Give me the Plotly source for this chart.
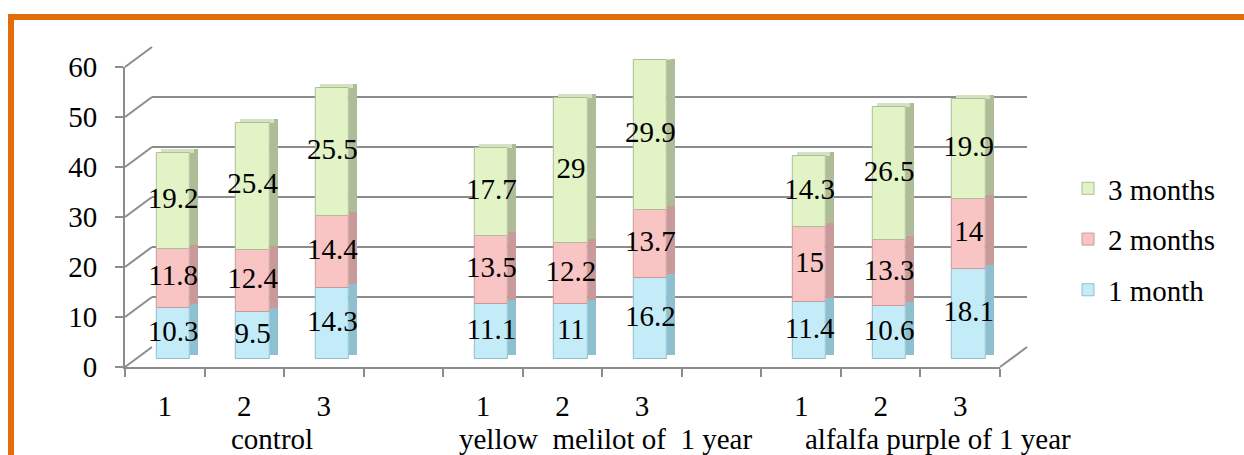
import plotly.graph_objects as go

# Sub-plot labels and groups
sub_labels = ["1", "2", "3", "1", "2", "3", "1", "2", "3"]
positions = [0, 1, 2, 4, 5, 6, 8, 9, 10]
group_labels = ["control", "yellow\u00a0 melilot of\u00a0 1 year", "alfalfa purple of 1 year"]
group_centers = [1.35, 5.54, 9.72]

# Stacked series values
month1 = [10.3, 9.5, 14.3, 11.1, 11, 16.2, 11.4, 10.6, 18.1]
month2 = [11.8, 12.4, 14.4, 13.5, 12.2, 13.7, 15, 13.3, 14]
month3 = [19.2, 25.4, 25.5, 17.7, 29, 29.9, 14.3, 26.5, 19.9]
series_names = ["1 month", "2 months", "3 months"]

y_ticks = [0, 10, 20, 30, 40, 50, 60]

W, H = 1244, 455
FONT = "Liberation Serif"
FS = 29
GRID = "#8c8c8c"

front_col = ["#c4ecf8", "#f8c4c4", "#e2f3c6"]
side_col = ["#8fc0cf", "#c99a9a", "#aebd98"]
cap_col = "#d3e2c3"


def px(x):
    return x / W


def py(y):
    return 1 - y / H


# Pixel geometry of the pseudo-3D box
FX0, FX1, FY_TOP, FY_BOT = 125, 1000, 67, 367   # front plane
DX, DY = 27, 20                                 # full depth offset
BF = 0.4                                        # depth of the bar plane
BX, BY = DX * BF, DY * BF

fig = go.Figure()

series = [month1, month2, month3]
bases = []
acc = [0.0] * len(positions)
for vals in series:
    bases.append(acc[:])
    acc = [a + v for a, v in zip(acc, vals)]
totals = acc
lift = 0.8

# Side faces (drawn first, behind the front faces)
for k, vals in enumerate(series):
    fig.add_trace(go.Bar(
        x=positions, y=vals, base=[b + lift for b in bases[k]],
        offset=0.18, width=0.1, marker=dict(color=side_col[k], line=dict(width=0)),
        xaxis="x3", yaxis="y3", showlegend=False, hoverinfo="skip"))

# Top caps
fig.add_trace(go.Bar(
    x=positions, y=[lift] * len(positions), base=totals,
    offset=-0.19, width=0.42, marker=dict(color=cap_col, line=dict(width=0)),
    xaxis="x3", yaxis="y3", showlegend=False, hoverinfo="skip"))

# Front faces
for k, vals in enumerate(series):
    fig.add_trace(go.Bar(
        x=positions, y=vals, base=bases[k], name=series_names[k],
        legendgroup=series_names[k], legendrank=3 - k,
        offset=-0.24, width=0.42,
        marker=dict(color=front_col[k], line=dict(width=1, color=side_col[k])),
        xaxis="x3", yaxis="y3"))

# Value labels centred in each segment
for k, vals in enumerate(series):
    fig.add_trace(go.Scatter(
        x=[p - 0.03 for p in positions],
        y=[b + v / 2 for b, v in zip(bases[k], vals)],
        text=[f"{v:g}" for v in vals], mode="text",
        textfont=dict(family=FONT, size=FS, color="black"),
        xaxis="x3", yaxis="y3", showlegend=False, hoverinfo="skip"))

# dummy trace so the back-wall gridlines are drawn
fig.add_trace(go.Scatter(x=[None], y=[None], xaxis="x2", yaxis="y2",
                         showlegend=False, hoverinfo="skip"))


# Frame of the 3D box: left-wall diagonals and floor corner
def fy(v):
    return py(FY_BOT - (FY_BOT - FY_TOP) * v / 60)


shapes = []
for v in y_ticks:
    shapes.append(dict(type="line", xref="paper", yref="paper",
                       x0=px(FX0), y0=fy(v), x1=px(FX0 + DX), y1=fy(v) + DY / H,
                       line=dict(color=GRID, width=2)))
shapes.append(dict(type="line", xref="paper", yref="paper",
                   x0=px(FX1), y0=fy(0), x1=px(FX1 + DX), y1=fy(0) + DY / H,
                   line=dict(color=GRID, width=2)))
# Orange border
ORANGE = "#e46c0a"
shapes.append(dict(type="line", xref="paper", yref="paper",
                   x0=px(8), y0=py(17), x1=1, y1=py(17),
                   line=dict(color=ORANGE, width=6)))
shapes.append(dict(type="line", xref="paper", yref="paper",
                   x0=px(11), y0=py(14), x1=px(11), y1=0,
                   line=dict(color=ORANGE, width=6)))

annotations = [
    dict(x=c, y=py(439), xref="x", yref="paper", text=t, showarrow=False,
         xanchor="center", yanchor="middle",
         font=dict(family=FONT, size=FS, color="black"))
    for c, t in zip(group_centers, group_labels)
]

fig.update_layout(
    width=W, height=H,
    margin=dict(l=0, r=0, t=0, b=0, autoexpand=False),
    paper_bgcolor="white", plot_bgcolor="rgba(0,0,0,0)",
    barmode="overlay", bargap=0,
    font=dict(family=FONT, size=FS, color="black"),
    shapes=shapes, annotations=annotations,
    # front axes with tick marks and labels
    xaxis=dict(domain=[px(FX0), px(FX1)], range=[-0.5, 10.5],
               tickmode="array", tickvals=positions, ticktext=sub_labels,
               ticks="", ticklabelstandoff=12, automargin=False,
               tickfont=dict(family=FONT, size=FS),
               minor=dict(tick0=-0.5, dtick=1, ticks="outside", ticklen=8,
                          tickcolor=GRID, tickwidth=2),
               showline=True, linecolor=GRID, linewidth=2,
               showgrid=False, zeroline=False, anchor="y", fixedrange=True),
    yaxis=dict(domain=[py(FY_BOT), py(FY_TOP)], range=[0, 60],
               tickvals=y_ticks, ticks="outside", ticklen=8, tickcolor=GRID,
               tickwidth=2, ticklabelstandoff=12, automargin=False,
               tickfont=dict(family=FONT, size=FS),
               showline=True, linecolor=GRID, linewidth=2,
               showgrid=False, zeroline=False, anchor="x", fixedrange=True),
    # back wall with gridlines
    xaxis2=dict(domain=[px(FX0 + DX), px(FX1 + DX)], range=[-0.5, 10.5],
                visible=False, anchor="y2", automargin=False),
    yaxis2=dict(domain=[py(FY_BOT - DY), py(FY_TOP - DY)], range=[0, 60],
                tickvals=y_ticks, showticklabels=False, ticks="",
                showgrid=True, gridcolor=GRID, gridwidth=2, automargin=False,
                zeroline=False, showline=False, anchor="x2"),
    # bar plane
    xaxis3=dict(domain=[px(FX0 + BX), px(FX1 + BX)], range=[-0.5, 10.5],
                visible=False, anchor="y3", automargin=False),
    yaxis3=dict(domain=[py(FY_BOT - BY), py(FY_TOP - BY)], range=[0, 60],
                visible=False, anchor="x3", automargin=False),
    legend=dict(x=px(1068), y=py(163), xanchor="left", yanchor="top",
                traceorder="grouped", tracegroupgap=10,
                font=dict(family=FONT, size=FS, color="black"),
                bgcolor="rgba(0,0,0,0)"),
)

fig.write_html("out.html")
